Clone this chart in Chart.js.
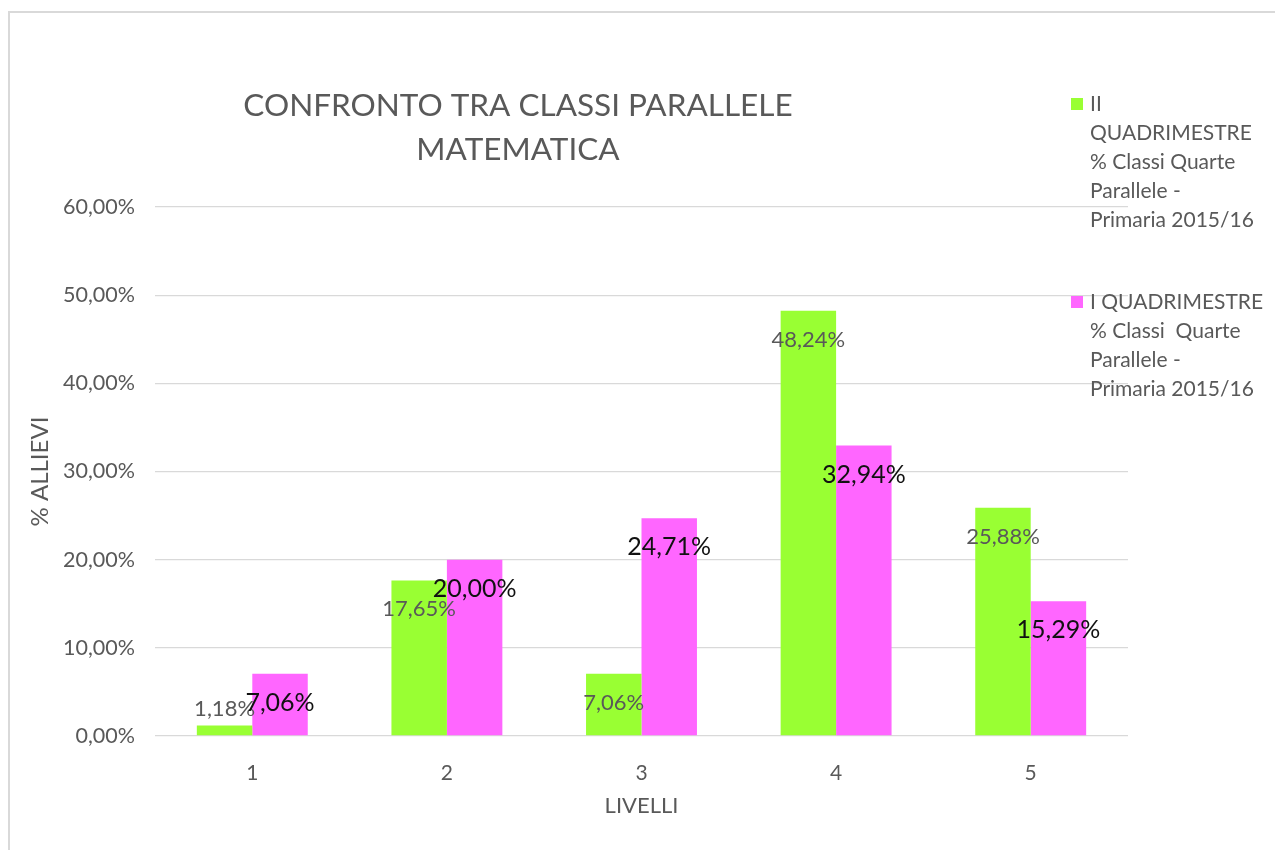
<!DOCTYPE html>
<html>
<head>
<meta charset="utf-8">
<script src="https://cdn.jsdelivr.net/npm/chart.js@4/dist/chart.umd.min.js"></script>
<style>
  html, body { margin: 0; padding: 0; background: #fff; overflow: hidden; }
  canvas { display: block; }
</style>
</head>
<body>
<canvas id="chart" width="1275" height="850"></canvas>
<script>
// dati del grafico
const livelli = ['1', '2', '3', '4', '5'];
const secondoQuadrimestre = [1.18, 17.65, 7.06, 48.24, 25.88];
const primoQuadrimestre = [7.06, 20.00, 24.71, 32.94, 15.29];
const nomiSerie = [
    'II\nQUADRIMESTRE\n% Classi Quarte\nParallele -\nPrimaria 2015/16',
    'I QUADRIMESTRE\n% Classi  Quarte\nParallele -\nPrimaria 2015/16'
];
const titolo = ['CONFRONTO TRA CLASSI PARALLELE', 'MATEMATICA'];
const coloriSerie = ['#99ff33', '#ff66ff'];

const FONT = 'Lato, "Open Sans", sans-serif';
const GRIGIO = '#595959';

function percento(v) {
    return v.toFixed(2).replace('.', ',') + '%';
}

// =========================
// plugin: cornice, titolo, legenda, etichette dati
// =========================
const decorazioni = {
    id: 'decorazioni',
    beforeDraw(chart) {
        const ctx = chart.ctx;
        ctx.save();
        ctx.fillStyle = '#ffffff';
        ctx.fillRect(0, 0, chart.width, chart.height);
        ctx.strokeStyle = '#d9d9d9';
        ctx.lineWidth = 2;
        ctx.strokeRect(9, 12, 2000, 2000);
        ctx.restore();
    },
    afterDatasetsDraw(chart) {
        const ctx = chart.ctx;
        ctx.save();
        ctx.textAlign = 'center';
        ctx.textBaseline = 'middle';
        chart.data.datasets.forEach((ds, i) => {
            const meta = chart.getDatasetMeta(i);
            ctx.font = i === 0 ? '22px ' + FONT : '25px ' + FONT;
            ctx.fillStyle = i === 0 ? GRIGIO : '#111111';
            meta.data.forEach((bar, j) => {
                let y = bar.y + 29;
                if (y + 10 > bar.base) y = bar.y - 17;
                ctx.fillText(percento(ds.data[j]), bar.x, y);
            });
        });
        ctx.restore();
    },
    afterDraw(chart) {
        const ctx = chart.ctx;
        ctx.save();
        // titolo
        ctx.fillStyle = GRIGIO;
        ctx.font = '31.5px ' + FONT;
        ctx.textAlign = 'center';
        ctx.textBaseline = 'middle';
        titolo.forEach((riga, k) => ctx.fillText(riga, 518, 106 + k * 44));

        // legenda
        ctx.font = '21px ' + FONT;
        ctx.textAlign = 'left';
        const inizi = [104, 302];
        nomiSerie.forEach((nome, i) => {
            ctx.fillStyle = coloriSerie[i];
            ctx.fillRect(1071, inizi[i] - 6, 12, 12);
            ctx.fillStyle = GRIGIO;
            nome.split('\n').forEach((riga, k) => {
                ctx.fillText(riga, 1090, inizi[i] + k * 29);
            });
        });
        ctx.restore();
    }
};

const ctx = document.getElementById('chart').getContext('2d');
new Chart(ctx, {
    type: 'bar',
    data: {
        labels: livelli,
        datasets: [
            {
                label: nomiSerie[0],
                data: secondoQuadrimestre,
                backgroundColor: coloriSerie[0]
            },
            {
                label: nomiSerie[1],
                data: primoQuadrimestre,
                backgroundColor: coloriSerie[1]
            }
        ]
    },
    options: {
        responsive: false,
        animation: false,
        devicePixelRatio: 1,
        layout: { padding: { top: 207, right: 147, left: 0, bottom: 0 } },
        datasets: {
            bar: { barPercentage: 1, categoryPercentage: 0.57 }
        },
        plugins: {
            legend: { display: false },
            title: { display: false },
            tooltip: { enabled: false }
        },
        scales: {
            x: {
                grid: { display: false },
                border: { display: false },
                ticks: { color: GRIGIO, font: { family: FONT, size: 21 }, padding: 17 },
                title: {
                    display: true,
                    text: 'LIVELLI',
                    color: GRIGIO,
                    font: { family: FONT, size: 22 },
                    padding: { top: 0, bottom: 31 }
                },
                afterFit(scale) { scale.height = 114; }
            },
            y: {
                min: 0,
                max: 60,
                ticks: {
                    stepSize: 10,
                    color: GRIGIO,
                    font: { family: FONT, size: 21.5 },
                    padding: 20,
                    callback: (v) => percento(v)
                },
                grid: { color: '#d9d9d9', lineWidth: 1.3, drawTicks: false },
                border: { display: false },
                title: {
                    display: true,
                    text: '% ALLIEVI',
                    color: GRIGIO,
                    font: { family: FONT, size: 24 },
                    padding: { top: 26, bottom: 0 }
                },
                afterFit(scale) { scale.width = 155; }
            }
        }
    },
    plugins: [decorazioni]
});
</script>
</body>
</html>
